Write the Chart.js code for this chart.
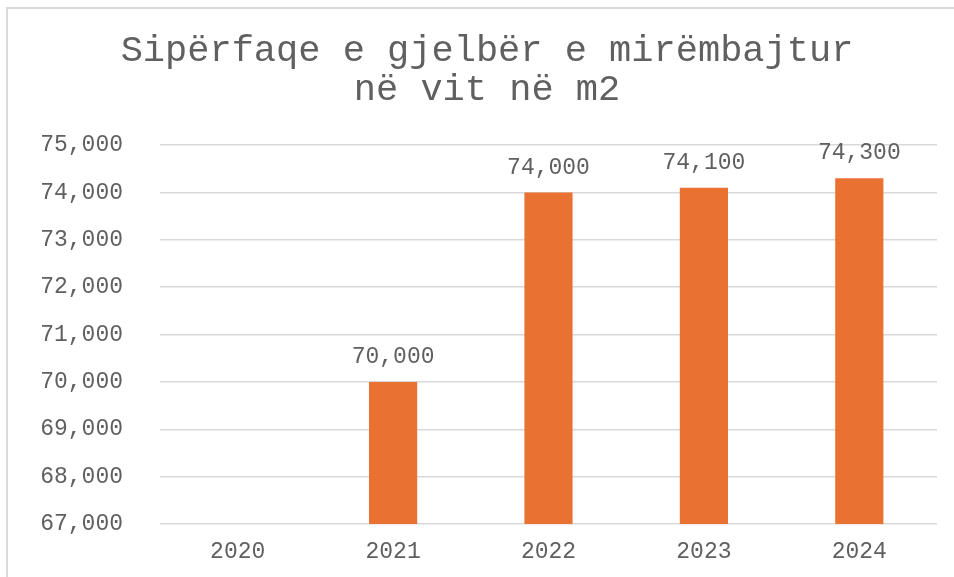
<!DOCTYPE html>
<html>
<head>
<meta charset="utf-8">
<script src="https://cdn.jsdelivr.net/npm/chart.js@4/dist/chart.umd.min.js"></script>
<style>
  html, body { margin: 0; padding: 0; background: #ffffff; }
  #wrap { position: relative; width: 954px; height: 577px; overflow: hidden; }
  #frame { position: absolute; left: 6px; top: 7px; width: 1000px; height: 700px;
           border-top: 2px solid #dadada; border-left: 2px solid #dadada; box-sizing: border-box; pointer-events: none; }
  canvas { position: absolute; left: 0; top: 0; }
</style>
</head>
<body>
<div id="wrap">
  <canvas id="c" width="954" height="577"></canvas>
  <div id="frame"></div>
</div>
<script>
const titleLines = ['Sipërfaqe e gjelbër e mirëmbajtur', 'në vit në m2'];
const categories = ['2020', '2021', '2022', '2023', '2024'];
const values = [null, 70000, 74000, 74100, 74300];
const yMin = 67000;
const yMax = 75000;
const yStep = 1000;

const FONT = "'Liberation Mono', 'Courier New', monospace";
const TEXT = '#606060';
const fmt = v => v.toLocaleString('en-US');

const dataLabels = {
  id: 'dataLabels',
  afterDatasetsDraw(chart) {
    const ctx = chart.ctx;
    ctx.save();
    ctx.font = '23px ' + FONT;
    ctx.fillStyle = TEXT;
    ctx.textAlign = 'center';
    ctx.textBaseline = 'alphabetic';
    chart.getDatasetMeta(0).data.forEach((bar, i) => {
      const v = values[i];
      if (v === null || v === undefined) return;
      ctx.fillText(fmt(v), bar.x, bar.y - 19);
    });
    ctx.restore();
  }
};

new Chart(document.getElementById('c'), {
  type: 'bar',
  data: {
    labels: categories,
    datasets: [{
      data: values,
      backgroundColor: '#E97132',
      borderWidth: 0,
      barPercentage: 0.31,
      categoryPercentage: 1.0
    }]
  },
  options: {
    responsive: false,
    animation: false,
    layout: { padding: { left: 37, right: 17, top: 0, bottom: 0 } },
    plugins: {
      legend: { display: false },
      tooltip: { enabled: false },
      title: {
        display: true,
        text: titleLines,
        color: TEXT,
        font: { family: FONT, size: 37, weight: 'normal', lineHeight: 1.07 },
        padding: { top: 31, bottom: 35 }
      }
    },
    scales: {
      x: {
        grid: { display: false, drawTicks: false },
        border: { display: false },
        ticks: { color: TEXT, font: { family: FONT, size: 23 }, padding: 14 },
        afterFit(s) { s.height = 53; }
      },
      y: {
        min: yMin,
        max: yMax,
        grid: { color: '#d9d9d9', lineWidth: 1.5, drawTicks: false },
        border: { display: false },
        ticks: {
          stepSize: yStep,
          color: TEXT,
          font: { family: FONT, size: 23 },
          padding: 37,
          callback: v => fmt(v)
        },
        afterFit(s) { s.width = 123; }
      }
    }
  },
  plugins: [dataLabels]
});
</script>
</body>
</html>
